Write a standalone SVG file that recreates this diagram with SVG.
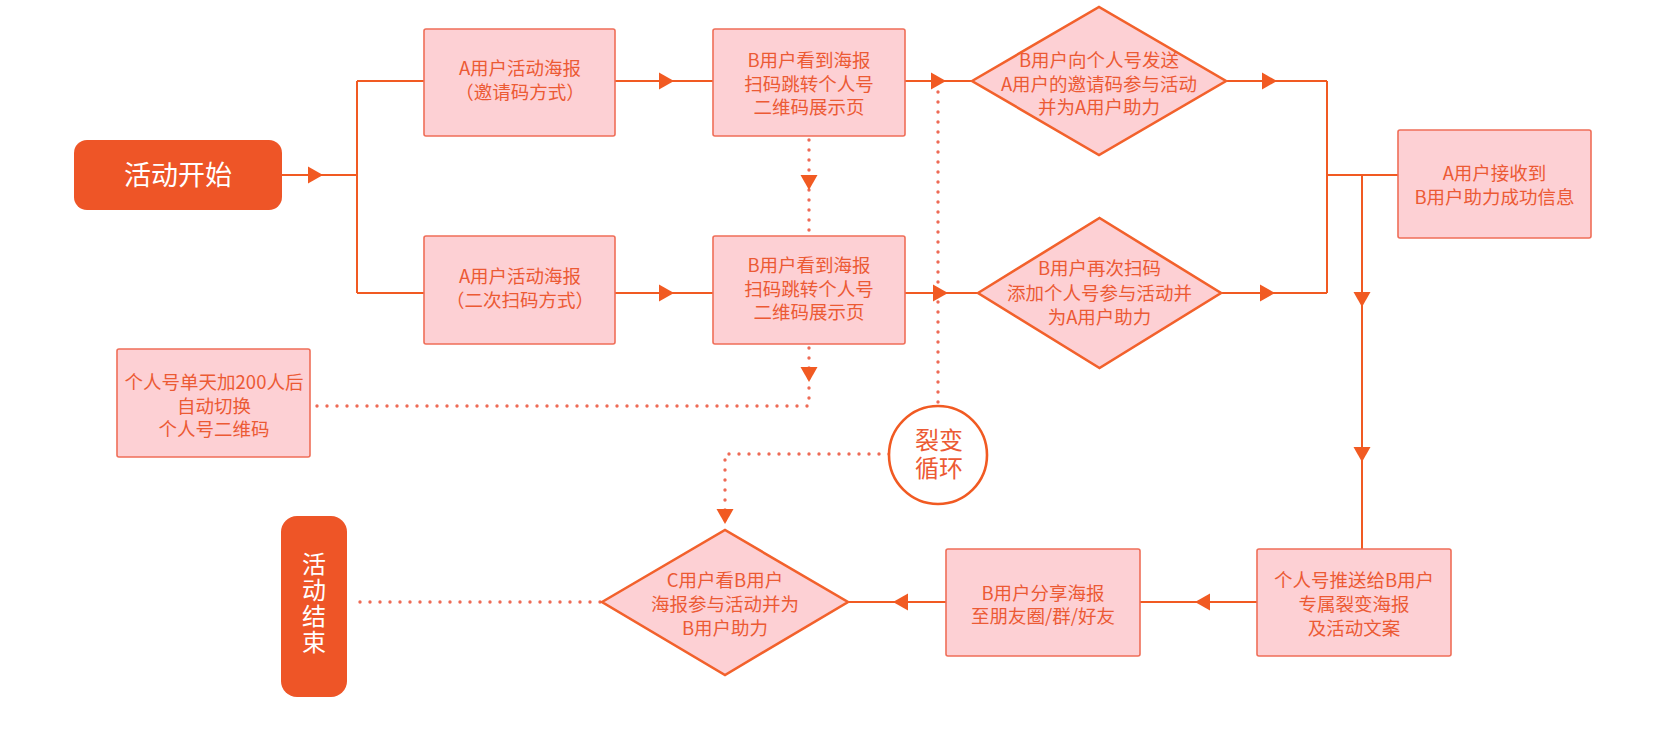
<svg xmlns="http://www.w3.org/2000/svg" xmlns:xlink="http://www.w3.org/1999/xlink" width="1671" height="734" viewBox="0 0 1671 734">
<style>
  .box { fill: #FDD0D4; stroke: #EF6E58; stroke-width: 1.6; }
  .dia { fill: #FDD0D4; stroke: #F2612C; stroke-width: 2.6; }
  .term { fill: #EE5527; }
  .t { font-family: "Noto Sans CJK SC", "Noto Sans", sans-serif; font-size: 18.5px; fill: #EC5A34; text-anchor: middle; }
  .big { font-size: 24px; }
  .tw { font-family: "Noto Sans CJK SC", "Noto Sans", sans-serif; fill: #FFFFFF; text-anchor: middle; }
  .line { fill: none; stroke: #F15A22; stroke-width: 2; }
  .dot { fill: none; stroke: #EE6A55; stroke-width: 3.4; stroke-linecap: round; stroke-dasharray: 0 10; }
  .ah { fill: #F15A22; }
</style>
<defs>
  <path id="ah" d="M0,0 L-15,-8.5 L-15,8.5 Z"/>
</defs>
<rect width="1671" height="734" fill="#FFFFFF"/>

<g id="connectors">
  <path class="line" d="M282,175 H357 M357,81 V293 M357,81 H424 M357,293 H424"/>
  <path class="line" d="M615,81 H713 M615,293 H713"/>
  <path class="line" d="M905,81 H972 M905,293 H978"/>
  <path class="line" d="M1226,81 H1327 M1221,293 H1327 M1327,81 V293 M1327,175 H1398"/>
  <path class="line" d="M1362,175 V549"/>
  <path class="line" d="M1257,602 H1140 M946,602 H848"/>
  <path class="dot" d="M809,140 V236"/>
  <path class="dot" d="M809,348 V406 H312"/>
  <path class="dot" d="M938,92 V406"/>
  <path class="dot" d="M889,454 H725 V528"/>
  <path class="dot" d="M600,602 H350"/>
  <g class="ah">
    <use xlink:href="#ah" transform="translate(323,175)"/>
    <use xlink:href="#ah" transform="translate(674,81)"/>
    <use xlink:href="#ah" transform="translate(674,293)"/>
    <use xlink:href="#ah" transform="translate(946,81)"/>
    <use xlink:href="#ah" transform="translate(948,293)"/>
    <use xlink:href="#ah" transform="translate(1277,81)"/>
    <use xlink:href="#ah" transform="translate(1275,293)"/>
    <use xlink:href="#ah" transform="translate(1362,307) rotate(90)"/>
    <use xlink:href="#ah" transform="translate(1362,462) rotate(90)"/>
    <use xlink:href="#ah" transform="translate(1195,602) rotate(180)"/>
    <use xlink:href="#ah" transform="translate(893,602) rotate(180)"/>
    <use xlink:href="#ah" transform="translate(809,190) rotate(90)"/>
    <use xlink:href="#ah" transform="translate(809,382) rotate(90)"/>
    <use xlink:href="#ah" transform="translate(725,524) rotate(90)"/>
  </g>
</g>

<g id="start">
  <rect class="term" x="74" y="140" width="208" height="70" rx="13"/>
  <text class="tw" x="178" y="185" font-size="27">活动开始</text>
</g>

<g id="a1">
  <rect class="box" x="424" y="29" width="191" height="107" rx="2"/>
  <text class="t" x="520" y="75">A用户活动海报</text>
  <text class="t" x="520" y="99">（邀请码方式）</text>
</g>

<g id="a2">
  <rect class="box" x="424" y="236" width="191" height="108" rx="2"/>
  <text class="t" x="520" y="283">A用户活动海报</text>
  <text class="t" x="520" y="307">（二次扫码方式）</text>
</g>

<g id="b1">
  <rect class="box" x="713" y="29" width="192" height="107" rx="2"/>
  <text class="t" x="809" y="67">B用户看到海报</text>
  <text class="t" x="809" y="90.5">扫码跳转个人号</text>
  <text class="t" x="809" y="114">二维码展示页</text>
</g>

<g id="b2">
  <rect class="box" x="713" y="236" width="192" height="108" rx="2"/>
  <text class="t" x="809" y="272">B用户看到海报</text>
  <text class="t" x="809" y="295.5">扫码跳转个人号</text>
  <text class="t" x="809" y="319">二维码展示页</text>
</g>

<g id="d1">
  <polygon class="dia" points="972,81 1099,7 1226,81 1099,155"/>
  <text class="t" x="1099" y="67">B用户向个人号发送</text>
  <text class="t" x="1099" y="90.5">A用户的邀请码参与活动</text>
  <text class="t" x="1099" y="114">并为A用户助力</text>
</g>

<g id="d2">
  <polygon class="dia" points="978,293 1099.5,218 1221,293 1099.5,368"/>
  <text class="t" x="1099.5" y="275">B用户再次扫码</text>
  <text class="t" x="1099.5" y="299.5">添加个人号参与活动并</text>
  <text class="t" x="1099.5" y="324">为A用户助力</text>
</g>

<g id="receive">
  <rect class="box" x="1398" y="130" width="193" height="108" rx="2"/>
  <text class="t" x="1494.5" y="180">A用户接收到</text>
  <text class="t" x="1494.5" y="204">B用户助力成功信息</text>
</g>

<g id="switch">
  <rect class="box" x="117" y="349" width="193" height="108" rx="2"/>
  <text class="t" x="214" y="389">个人号单天加200人后</text>
  <text class="t" x="214" y="412.5">自动切换</text>
  <text class="t" x="214" y="436">个人号二维码</text>
</g>

<g id="loop">
  <circle cx="938" cy="455" r="49" fill="#FFFFFF" stroke="#F15A22" stroke-width="2.6"/>
  <text class="t big" x="939" y="449">裂变<tspan x="939" dy="28">循环</tspan></text>
</g>

<g id="push">
  <rect class="box" x="1257" y="549" width="194" height="107" rx="2"/>
  <text class="t" x="1354" y="587">个人号推送给B用户</text>
  <text class="t" x="1354" y="611">专属裂变海报</text>
  <text class="t" x="1354" y="635">及活动文案</text>
</g>

<g id="share">
  <rect class="box" x="946" y="549" width="194" height="107" rx="2"/>
  <text class="t" x="1043" y="600">B用户分享海报</text>
  <text class="t" x="1043" y="623">至朋友圈/群/好友</text>
</g>

<g id="c">
  <polygon class="dia" points="602,602 725,530 848,602 725,675"/>
  <text class="t" x="725" y="587">C用户看B用户</text>
  <text class="t" x="725" y="611">海报参与活动并为</text>
  <text class="t" x="725" y="635">B用户助力</text>
</g>

<g id="end">
  <rect class="term" x="281" y="516" width="66" height="181" rx="16"/>
  <text class="tw" x="314" y="604" font-size="24" writing-mode="tb" letter-spacing="2">活动结束</text>
</g>
</svg>
